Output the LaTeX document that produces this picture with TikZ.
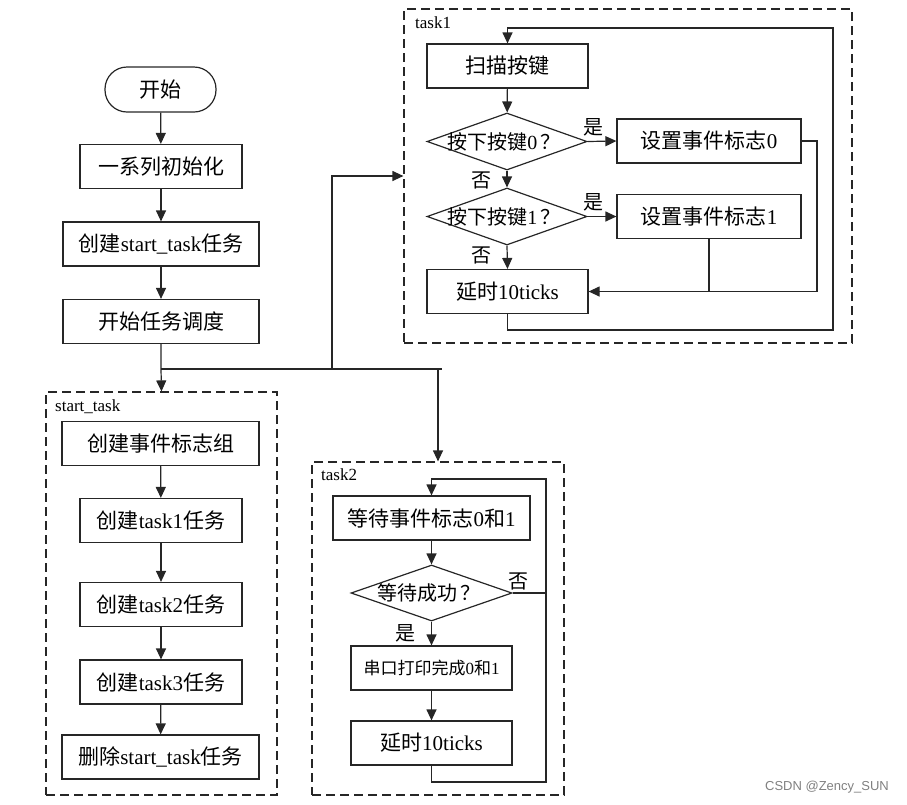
\documentclass[tikz,border=0pt]{standalone}
\usepackage{fontspec}
\setmainfont{Liberation Serif}
\newfontfamily\cjkfont{Noto Sans CJK SC}
\newfontfamily\wmfont{Liberation Sans}
\newcommand\zhs[1]{{\cjkfont #1}}
\usetikzlibrary{shapes.geometric,arrows.meta}
\begin{document}
\begin{tikzpicture}[x=1pt,y=-1pt,
  procbox/.style={draw=black!85, line width=1.2pt, minimum height=44pt, inner sep=0pt, font=\fontsize{21}{24}\selectfont},
  termbox/.style={draw=black!85, line width=1.2pt, rounded corners=22pt, minimum width=111pt, minimum height=45pt, inner sep=0pt, font=\fontsize{21}{24}\selectfont},
  decision/.style={draw=black!85, line width=1.2pt, diamond, inner sep=0pt},
  dtext/.style={inner sep=0pt, font=\fontsize{20}{24}\selectfont},
  groupbox/.style={draw=black!85, line width=1.2pt, dash pattern=on 9pt off 5pt, inner sep=0pt},
  grouplabel/.style={inner sep=0pt, font=\fontsize{17}{20}\selectfont},
  ylabel/.style={inner sep=0pt, font=\fontsize{20}{24}\selectfont},
  conn/.style={line width=1.2pt, draw=black!85},
  arr/.style={conn, -{Triangle[length=11pt,width=10pt]}},
]
\useasboundingbox (0,0) rectangle (907,804);

% ---- group boxes ----
\node[groupbox, minimum width=448pt, minimum height=334pt] (t1box) at (628,176) {};
\node[groupbox, minimum width=231pt, minimum height=403pt] (stbox) at (161.5,593.5) {};
\node[groupbox, minimum width=252pt, minimum height=333pt] (t2box) at (438,628.5) {};
\node[grouplabel, anchor=west] (t1lab) at (415,23) {task1};
\node[grouplabel, anchor=west] (stlab) at (55,407) {start\_task};
\node[grouplabel, anchor=west] (t2lab) at (321,475) {task2};

% ---- main flow ----
\node[termbox] (start) at (160.5,89.5) {\zhs{开始}};
\node[procbox, minimum width=162pt] (init) at (161,166.5) {\zhs{一系列初始化}};
\node[procbox, minimum width=196pt] (crst) at (161,244) {\zhs{创建}start\_task\zhs{任务}};
\node[procbox, minimum width=196pt] (sched) at (161,321.5) {\zhs{开始任务调度}};

% ---- start_task ----
\node[procbox, minimum width=197pt] (evgrp) at (160.5,443.5) {\zhs{创建事件标志组}};
\node[procbox, minimum width=162pt] (ct1) at (161,520.5) {\zhs{创建}task1\zhs{任务}};
\node[procbox, minimum width=162pt] (ct2) at (161,604.5) {\zhs{创建}task2\zhs{任务}};
\node[procbox, minimum width=162pt] (ct3) at (161,682) {\zhs{创建}task3\zhs{任务}};
\node[procbox, minimum width=197pt] (delst) at (160.5,757) {\zhs{删除}start\_task\zhs{任务}};

% ---- task1 ----
\node[procbox, minimum width=161pt] (scan) at (507.5,66) {\zhs{扫描按键}};
\node[decision, minimum width=160pt, minimum height=57pt] (d1) at (507,141.5) {};
\node[dtext] (d1t) at (504,141.5) {\zhs{按下按键}0\,\zhs{？}};
\node[decision, minimum width=160pt, minimum height=57pt] (d2) at (507,216.5) {};
\node[dtext] (d2t) at (504,216.5) {\zhs{按下按键}1\,\zhs{？}};
\node[procbox, minimum width=184pt] (set0) at (709,141) {\zhs{设置事件标志}0};
\node[procbox, minimum width=184pt] (set1) at (709,216.5) {\zhs{设置事件标志}1};
\node[procbox, minimum width=161pt] (dly1) at (507.5,291.5) {\zhs{延时}10ticks};
\node[ylabel] (y1) at (593,127) {\zhs{是}};
\node[ylabel] (n1) at (481,180) {\zhs{否}};
\node[ylabel] (y2) at (593,202) {\zhs{是}};
\node[ylabel] (n2) at (481,255) {\zhs{否}};

% ---- task2 ----
\node[procbox, minimum width=197pt] (wait) at (431.5,518) {\zhs{等待事件标志}0\zhs{和}1};
\node[decision, minimum width=161pt, minimum height=56pt] (d3) at (431.5,593) {};
\node[dtext] (d3t) at (429,593) {\zhs{等待成功}\,\zhs{？}};
\node[procbox, minimum width=161pt, font=\fontsize{17}{20}\selectfont] (prt) at (431.5,668) {\zhs{串口打印完成}0\zhs{和}1};
\node[procbox, minimum width=161pt] (dly2) at (431.5,743) {\zhs{延时}10ticks};
\node[ylabel] (n3) at (518,581) {\zhs{否}};
\node[ylabel] (y3) at (405,633) {\zhs{是}};

% ---- watermark ----
\node[inner sep=0pt, font=\wmfont\fontsize{13}{15}\selectfont, text=black!50] (wm) at (827,787) {CSDN @Zency\_SUN};

% ---- coordinates ----
\coordinate (split) at (161,369);
\coordinate (hend) at (442,369);
\coordinate (j1) at (332,369);
\coordinate (j2) at (438,369);
\coordinate (r0) at (817,141);
\coordinate (lp1) at (833,330);
\coordinate (lp2) at (507.5,28);
\coordinate (lq1) at (546,782);
\coordinate (lq2) at (431.5,479);
\coordinate (nq) at (546,593);

% ---- connectors: main ----
\draw[arr] (start) -- (init);
\draw[arr] (init) -- (crst);
\draw[arr] (crst) -- (sched);
\draw[arr] (sched.south) -- (split) -- (stbox.north);
\draw[conn] (split) -- (hend);
\draw[arr] (j1) |- (t1box.west);
\draw[arr] (j2) -- (t2box.north);

% ---- start_task ----
\draw[arr] (evgrp) -- (ct1);
\draw[arr] (ct1) -- (ct2);
\draw[arr] (ct2) -- (ct3);
\draw[arr] (ct3) -- (delst);

% ---- task1 ----
\draw[arr] (scan) -- (d1);
\draw[arr] (d1.south) -- (d2.north);
\draw[arr] (d2.south) -- (dly1.north);
\draw[arr] (d1.east) -- (set0.west);
\draw[arr] (d2.east) -- (set1.west);
\draw[arr] (set0.east) -- (r0) |- (dly1.east);
\draw[conn] (set1.south) -- (set1.south |- dly1.east);
\draw[arr] (dly1.south) |- (lp1) |- (lp2) -- (scan.north);

% ---- task2 ----
\draw[arr] (wait) -- (d3);
\draw[arr] (d3.south) -- (prt.north);
\draw[arr] (prt) -- (dly2);
\draw[conn] (d3.east) -- (nq);
\draw[arr] (dly2.south) |- (lq1) |- (lq2) -- (wait.north);
\end{tikzpicture}
\end{document}
